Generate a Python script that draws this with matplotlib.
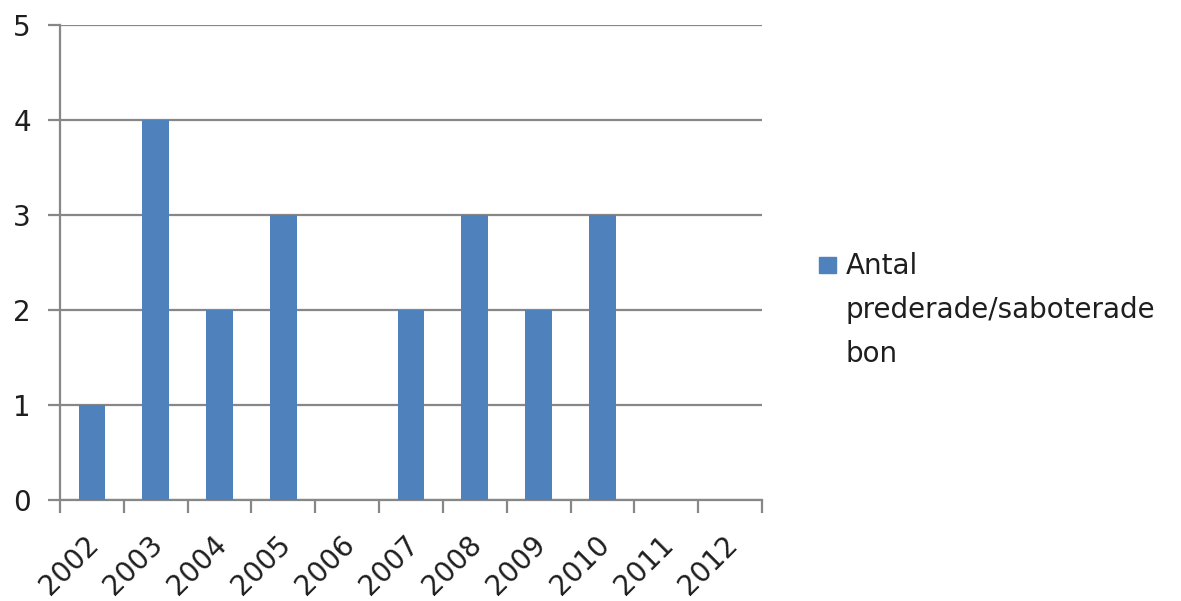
import matplotlib
matplotlib.use("Agg")
import matplotlib.pyplot as plt
from matplotlib.patches import Rectangle
from matplotlib.transforms import ScaledTranslation
import numpy as np

years = ["2002", "2003", "2004", "2005", "2006", "2007", "2008", "2009", "2010", "2011", "2012"]
values = [1, 4, 2, 3, 0, 2, 3, 2, 3, 0, 0]
series_label = "Antal\nprederade/saboterade\nbon"
yticks = [0, 1, 2, 3, 4, 5]

bar_color = "#4F81BD"
grid_color = "#878787"
text_color = "#1e1e1e"

fig = plt.figure(figsize=(11.81, 6.01), dpi=100)
ax = fig.add_axes([60/1181, 1 - 500/601, (762-60)/1181, (500-25)/601])

x = np.arange(len(years))
ax.bar(x, values, width=0.42, color=bar_color, zorder=3)

ax.set_xlim(-0.5, len(years) - 0.5)
ax.set_ylim(0, 5)
ax.set_yticks(yticks)
ax.set_yticklabels([str(v) for v in yticks], fontsize=20, color=text_color)
ax.yaxis.grid(True, color=grid_color, linewidth=1.6, zorder=0)
ax.tick_params(axis="y", length=9, width=1.6, color=grid_color, pad=12)

# x ticks at category boundaries, labels centred on categories
ax.set_xticks(np.arange(len(years) + 1) - 0.5)
ax.set_xticklabels([])
ax.set_xticks(x, minor=True)
ax.set_xticklabels(years, minor=True, fontsize=20, rotation=45, ha="right",
                   va="top", rotation_mode="anchor", color=text_color)
ax.tick_params(axis="x", which="major", length=9, width=1.6, color=grid_color)
ax.tick_params(axis="x", which="minor", length=0, pad=22)
shift = ScaledTranslation(-7/100, 0, fig.dpi_scale_trans)
for lbl in ax.get_xticklabels(minor=True):
    lbl.set_transform(lbl.get_transform() + shift)

for s in ["top", "right"]:
    ax.spines[s].set_visible(False)
for s in ["left", "bottom"]:
    ax.spines[s].set_color(grid_color)
    ax.spines[s].set_linewidth(1.6)
ax.set_axisbelow(True)

# legend (Excel-style: marker aligned with first line)
fig.patches.append(Rectangle((819/1181, 1 - 273/601), 17/1181, 16/601,
                             transform=fig.transFigure, color=bar_color))
fig.text(846/1181, 1 - 252/601, series_label, fontsize=20, va="top",
         ha="left", linespacing=1.72, color=text_color,
         transform=fig.transFigure)

fig.savefig("out.png", dpi=100)
